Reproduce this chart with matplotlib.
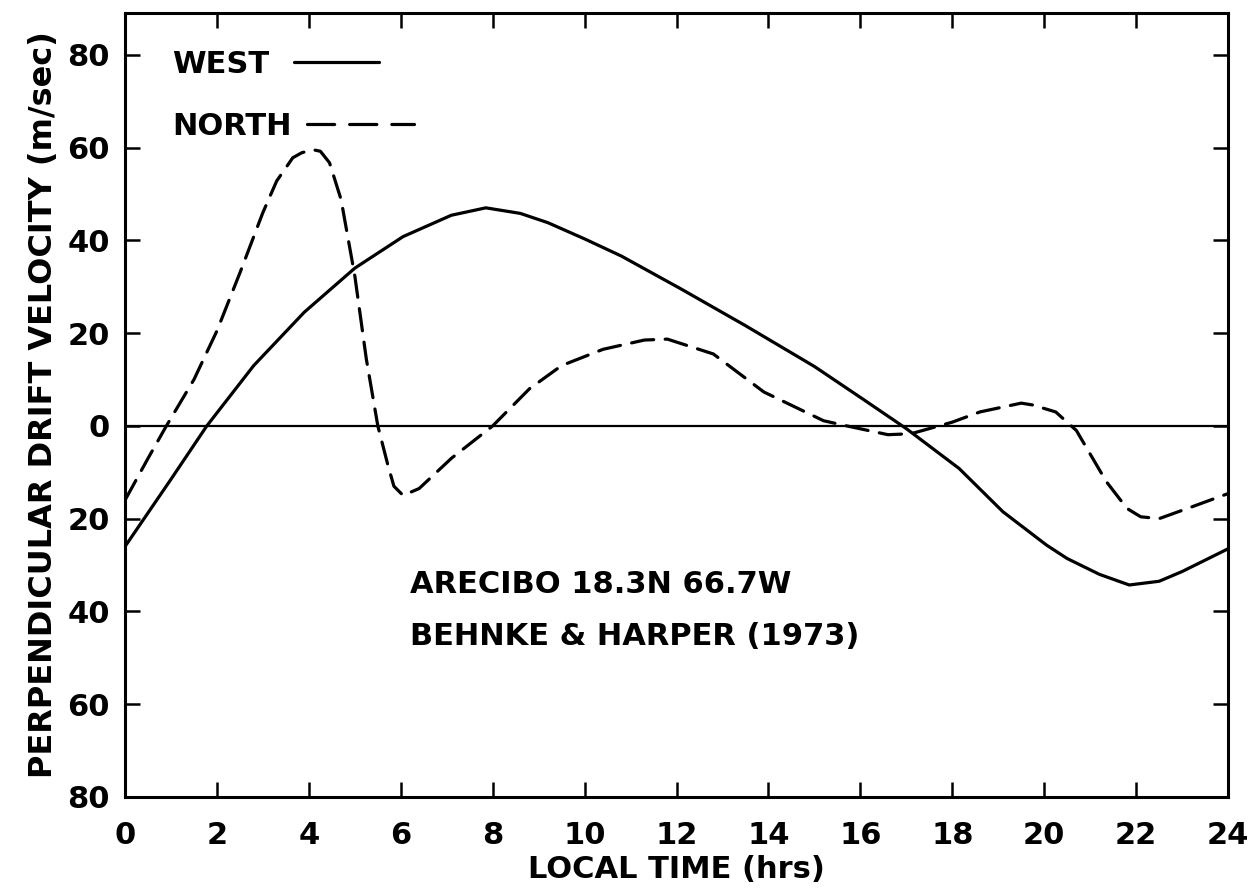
import matplotlib
matplotlib.use("Agg")
import matplotlib.pyplot as plt
from matplotlib.lines import Line2D

# local time (hrs) and drift velocity (m/sec), westward component
west_t = [0, 1, 1.78, 2.8, 3.9, 5.0, 6.05, 7.1, 7.85, 8.6, 9.2, 10.0, 10.8,
          12.1, 13.5, 15.0, 16.05, 17.0, 18.15, 19.1, 20.05, 20.5, 21.2,
          21.85, 22.5, 23.0, 24]
west_v = [-26, -11.5, 0, 13, 24.5, 34, 40.8, 45.4, 47.0, 45.8, 43.8, 40.3,
          36.6, 29.5, 21.6, 12.8, 5.8, -0.6, -9.2, -18.5, -25.7, -28.6, -32,
          -34.3, -33.5, -31.4, -26.5]

# northward component
north_t = [0, 0.5, 0.9, 1.5, 2.0, 2.5, 3.0, 3.3, 3.65, 3.85, 4.1, 4.25, 4.45,
           4.7, 5.0, 5.25, 5.5, 5.72, 5.85, 6.05, 6.4, 7.1, 8.0, 8.8, 9.5,
           10.4, 11.3, 11.8, 12.8, 13.9, 15.2, 15.7, 16.6, 17.1, 18.0, 18.6,
           19.5, 19.75, 20.25, 20.7, 21.35, 21.8, 22.1, 22.5, 23.2, 24]
north_v = [-16, -7, 0, 10, 20.5, 33, 46, 52.8, 57.8, 58.9, 59.5, 59.2, 56.7,
           48.8, 32.3, 14.4, 0, -8.5, -13, -15, -13.5, -7, 0, 8, 13,
           16.5, 18.5, 18.7, 15.5, 7.3, 1.1, 0, -1.9, -1.7, 0.8, 3,
           4.9, 4.5, 3, -1, -12, -17.8, -19.6, -20, -17.5, -14.6]

xticks = [0, 2, 4, 6, 8, 10, 12, 14, 16, 18, 20, 22, 24]
yticks = [80, 60, 40, 20, 0, -20, -40, -60, -80]
ytick_labels = ["80", "60", "40", "20", "0", "20", "40", "60", "80"]

plt.rcParams['font.family'] = 'DejaVu Sans'
plt.rcParams['font.weight'] = 'bold'
fs = 22

fig = plt.figure(figsize=(12.58, 8.96), dpi=100)
ax = fig.add_axes([0.0994, 0.1105, 0.8768, 0.875])

ax.axhline(0, color='black', lw=1.6, zorder=1)
h1, = ax.plot(west_t, west_v, color='black', lw=2.3, solid_capstyle='round')
h2, = ax.plot(north_t, north_v, color='black', lw=2.3, dashes=(7, 3.6),
              dash_capstyle='round')

ax.set_xlim(0, 24)
ax.set_ylim(-80, 89)
ax.set_xticks(xticks)
ax.set_yticks(yticks)
ax.set_yticklabels(ytick_labels)

for s in ax.spines.values():
    s.set_linewidth(2.2)
ax.tick_params(direction='in', length=11, width=1.8, labelsize=fs,
               top=True, right=True)
ax.tick_params(axis='x', pad=17)
ax.tick_params(axis='y', pad=11)

ax.set_xlabel("LOCAL TIME (hrs)", fontsize=fs, fontweight='bold', labelpad=4)
ax.set_ylabel("PERPENDICULAR DRIFT VELOCITY (m/sec)", fontsize=23,
              fontweight='bold', labelpad=6)

ax.text(6.2, -36.1, "ARECIBO 18.3N 66.7W", fontsize=fs, fontweight='bold',
        va='baseline')
ax.text(6.2, -47.3, "BEHNKE & HARPER (1973)", fontsize=fs, fontweight='bold',
        va='baseline')

# legend key for the dashed line: three even dashes
north_key = Line2D([], [], color='black', lw=2.3, dashes=(8.5, 4.7),
                   dash_capstyle='round')

# one legend per row so the labels stay left-aligned with the line after them
common = dict(loc='upper left', frameon=False, markerfirst=False,
              fontsize=fs, borderpad=0, borderaxespad=0)
leg_w = ax.legend([h1], ["WEST"], bbox_to_anchor=(0.0426, 0.9534),
                  handlelength=2.78, handletextpad=0.8, **common)
ax.add_artist(leg_w)
leg_n = ax.legend([north_key], ["NORTH"], bbox_to_anchor=(0.0426, 0.8737),
                  handlelength=3.5, handletextpad=0.5, **common)
for lg in (leg_w, leg_n):
    for t in lg.get_texts():
        t.set_fontweight('bold')

fig.savefig("out.png", dpi=100)
